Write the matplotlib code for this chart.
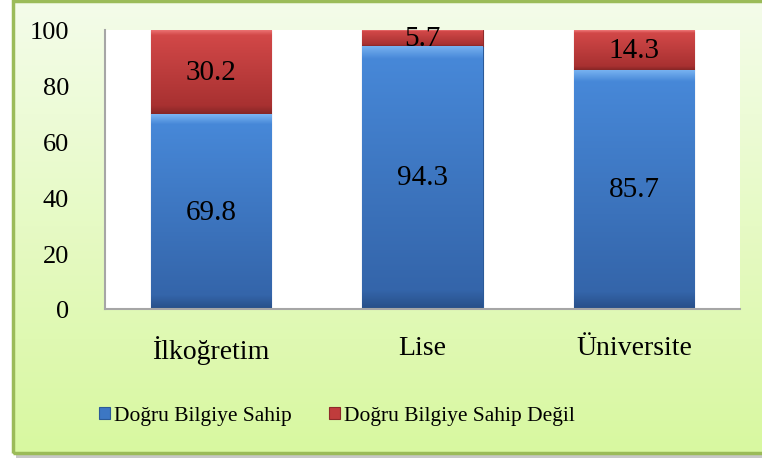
import numpy as np
import matplotlib.pyplot as plt
from matplotlib.patches import Rectangle
from matplotlib.colors import LinearSegmentedColormap

# data
categories = ['İlkoğretim', 'Lise', 'Üniversite']
sahip = [69.8, 94.3, 85.7]
sahip_degil = [30.2, 5.7, 14.3]
series_names = ['Doğru Bilgiye Sahip', 'Doğru Bilgiye Sahip Değil']
yticks = [0, 20, 40, 60, 80, 100]

blue = '#3c77c4'
red = '#c03c3c'
serif = 'Liberation Serif'

fig = plt.figure(figsize=(7.62, 4.60), dpi=100)
fig.patch.set_facecolor('white')

# background panel with soft green gradient
bg = fig.add_axes([0, 0, 1, 1], zorder=0)
grad = np.linspace(0, 1, 256).reshape(-1, 1)
cmap = LinearSegmentedColormap.from_list('bg', ['#f4fcea', '#e6fac4', '#d8f8a0'])
x0, y0 = 13 / 762, 1 - 454 / 460
top = 1 - 1.5 / 460
bg.add_patch(Rectangle((x0 + 0.004, y0 - 0.01), 1.0, top - y0, facecolor='#c8c8c8',
                       edgecolor='none', zorder=0))
bg.imshow(grad, aspect='auto', cmap=cmap, extent=[x0, 1.02, y0, top], zorder=1)
bg.add_patch(Rectangle((x0, y0), 1.02, top - y0, facecolor='none',
                       edgecolor='#9bbb59', lw=2.5, zorder=3))
bg.set_xlim(0, 1)
bg.set_ylim(0, 1)
bg.axis('off')

ax = fig.add_axes([105 / 762, 1 - 310 / 460, 635 / 762, 279 / 460], zorder=1)
ax.set_facecolor('white')
x = np.arange(len(categories))
w = 0.57
b1 = ax.bar(x, sahip, w, color=blue, edgecolor='#2b5a98', lw=0.8, label=series_names[0])
b2 = ax.bar(x, sahip_degil, w, bottom=sahip, color=red, edgecolor='#8e2a2a', lw=0.8,
            label=series_names[1])

# bevel-like shading on each segment
shade = {
    'b': LinearSegmentedColormap.from_list('sb', [(0, '#7ab4f2'), (0.05, '#4788d8'),
                                                 (0.93, '#3465aa'), (1, '#284f88')]),
    'r': LinearSegmentedColormap.from_list('sr', [(0, '#f07a7a'), (0.07, '#d24848'),
                                                 (0.9, '#a83131'), (1, '#862626')]),
}
for bars, key in [(b1, 'b'), (b2, 'r')]:
    for p in bars:
        bx, by = p.get_x(), p.get_y()
        im = ax.imshow(grad, aspect='auto', cmap=shade[key],
                       extent=[bx, bx + p.get_width(), by, by + p.get_height()], zorder=1.5)
        im.set_clip_path(p)

for i in range(len(categories)):
    ax.text(x[i], sahip[i] / 2, f'{sahip[i]:.1f}', ha='center', va='center',
            fontsize=21, family=serif, zorder=3)
    ax.text(x[i], sahip[i] + sahip_degil[i] / 2, f'{sahip_degil[i]:.1f}', ha='center',
            va='center', fontsize=21, family=serif, zorder=3)

ax.set_xlim(-0.5, 2.5)
ax.set_ylim(0, 100)
ax.set_yticks(yticks)
ax.set_yticklabels([str(t) for t in yticks], family=serif, fontsize=19)
ax.set_xticks(x)
ax.set_xticklabels(categories, family=serif, fontsize=20)
ax.tick_params(axis='y', length=0, pad=26)
ax.tick_params(axis='x', length=0, pad=19)
for s in ['top', 'right']:
    ax.spines[s].set_visible(False)
for s in ['left', 'bottom']:
    ax.spines[s].set_color('#a6a6a6')
    ax.spines[s].set_linewidth(1.5)
    ax.spines[s].set_zorder(4)

fig.legend(handles=[b1, b2], loc='center', bbox_to_anchor=(337 / 762, 1 - 417 / 460), ncol=2,
           frameon=False, prop={'family': serif, 'size': 15.5}, handlelength=0.5,
           handleheight=0.5, handletextpad=0.2, columnspacing=1.7)

fig.savefig('out.png', dpi=100)
